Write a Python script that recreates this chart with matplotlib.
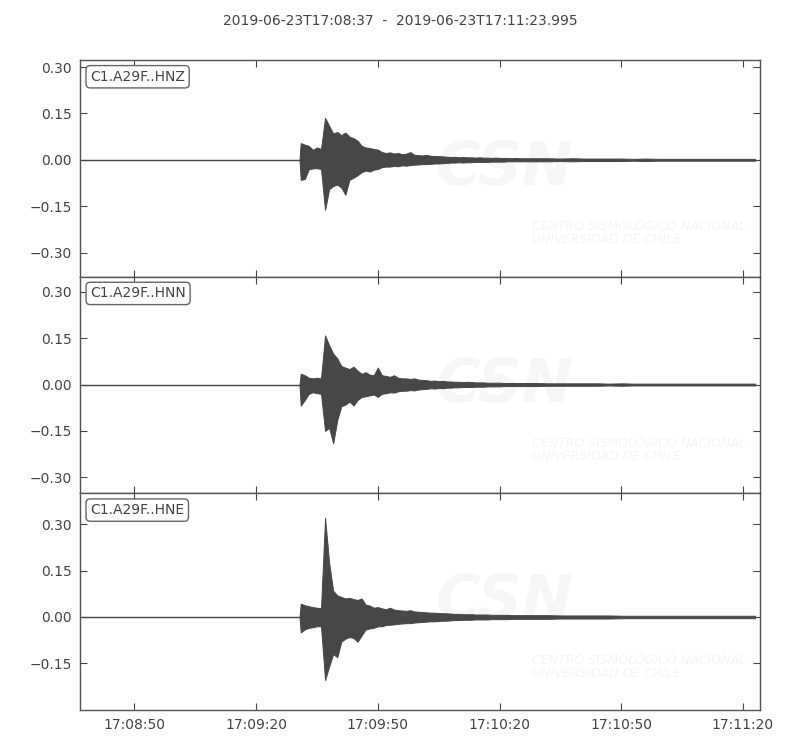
import numpy as np
import matplotlib
matplotlib.use("Agg")
import matplotlib.pyplot as plt
from matplotlib.ticker import FixedLocator, FuncFormatter

# ---------------- data ----------------
title = "2019-06-23T17:08:37  -  2019-06-23T17:11:23.995"
start_hms = (17, 8, 37)          # trace start time
duration = 166.995               # seconds
onset = 53.7                     # seconds after start, quiet before
pre_event_level = 0.0
channels = ["C1.A29F..HNZ", "C1.A29F..HNN", "C1.A29F..HNE"]

# 1-s bins, seconds after start
strong_t = list(range(54, 110))
# 3-s bins in the coda
tail_t = list(range(112, 168, 3))

hnz_hi = [0.054, 0.049, 0.045, 0.032, 0.040, 0.035, 0.136, 0.110, 0.085, 0.090,
          0.080, 0.088, 0.075, 0.070, 0.062, 0.045, 0.040, 0.038, 0.035, 0.033,
          0.025, 0.022, 0.024, 0.020, 0.022, 0.018, 0.020, 0.025, 0.016, 0.015,
          0.014, 0.016, 0.013, 0.012, 0.012, 0.011, 0.010, 0.009, 0.010, 0.008,
          0.009, 0.008, 0.008, 0.007, 0.008, 0.007, 0.007, 0.006, 0.007, 0.006,
          0.006, 0.006, 0.005, 0.006, 0.005, 0.005]
hnz_lo = [-0.065, -0.062, -0.030, -0.028, -0.027, -0.030, -0.162, -0.095, -0.085, -0.080,
          -0.090, -0.113, -0.065, -0.058, -0.050, -0.040, -0.035, -0.038, -0.032, -0.030,
          -0.024, -0.022, -0.022, -0.020, -0.021, -0.018, -0.019, -0.017, -0.016, -0.015,
          -0.014, -0.014, -0.013, -0.012, -0.012, -0.011, -0.010, -0.009, -0.009, -0.008,
          -0.009, -0.008, -0.008, -0.007, -0.007, -0.007, -0.007, -0.006, -0.006, -0.006,
          -0.006, -0.005, -0.005, -0.005, -0.005, -0.005]
hnz_tail = [0.005, 0.005, 0.004, 0.005, 0.004, 0.004, 0.004, 0.004, 0.003, 0.004,
            0.003, 0.003, 0.003, 0.003, 0.003, 0.003, 0.003, 0.003, 0.003]

hnn_hi = [0.035, 0.030, 0.022, 0.020, 0.022, 0.020, 0.159, 0.127, 0.100, 0.085,
          0.060, 0.055, 0.050, 0.058, 0.045, 0.035, 0.040, 0.032, 0.030, 0.055,
          0.030, 0.028, 0.025, 0.030, 0.022, 0.020, 0.020, 0.018, 0.020, 0.016,
          0.015, 0.014, 0.012, 0.013, 0.011, 0.012, 0.010, 0.010, 0.009, 0.009,
          0.008, 0.009, 0.008, 0.007, 0.007, 0.007, 0.006, 0.006, 0.006, 0.006,
          0.005, 0.005, 0.005, 0.005, 0.005, 0.005]
hnn_lo = [-0.068, -0.050, -0.030, -0.025, -0.028, -0.030, -0.150, -0.140, -0.190, -0.115,
          -0.070, -0.065, -0.055, -0.068, -0.050, -0.040, -0.038, -0.035, -0.032, -0.040,
          -0.030, -0.028, -0.025, -0.026, -0.022, -0.020, -0.020, -0.018, -0.019, -0.016,
          -0.015, -0.014, -0.012, -0.013, -0.011, -0.012, -0.010, -0.010, -0.009, -0.009,
          -0.008, -0.008, -0.008, -0.007, -0.007, -0.007, -0.006, -0.006, -0.006, -0.006,
          -0.005, -0.005, -0.005, -0.005, -0.005, -0.005]
hnn_tail = [0.005, 0.004, 0.004, 0.004, 0.004, 0.004, 0.003, 0.004, 0.003, 0.003,
            0.003, 0.003, 0.003, 0.003, 0.003, 0.003, 0.003, 0.003, 0.003]

hne_hi = [0.043, 0.038, 0.035, 0.032, 0.030, 0.028, 0.321, 0.175, 0.085, 0.070,
          0.065, 0.060, 0.062, 0.058, 0.055, 0.060, 0.040, 0.037, 0.030, 0.032,
          0.028, 0.025, 0.030, 0.024, 0.022, 0.021, 0.020, 0.022, 0.018, 0.017,
          0.016, 0.015, 0.014, 0.014, 0.013, 0.012, 0.012, 0.011, 0.010, 0.010,
          0.009, 0.009, 0.009, 0.008, 0.008, 0.008, 0.008, 0.007, 0.007, 0.007,
          0.007, 0.007, 0.006, 0.006, 0.006, 0.006]
hne_lo = [-0.050, -0.040, -0.035, -0.033, -0.030, -0.030, -0.204, -0.160, -0.120, -0.130,
          -0.080, -0.070, -0.065, -0.068, -0.080, -0.060, -0.040, -0.037, -0.035, -0.030,
          -0.030, -0.026, -0.025, -0.024, -0.022, -0.021, -0.020, -0.020, -0.018, -0.017,
          -0.016, -0.015, -0.014, -0.014, -0.013, -0.012, -0.012, -0.011, -0.010, -0.010,
          -0.009, -0.009, -0.009, -0.008, -0.008, -0.008, -0.008, -0.007, -0.007, -0.007,
          -0.007, -0.007, -0.006, -0.006, -0.006, -0.006]
hne_tail = [0.006, 0.006, 0.005, 0.005, 0.005, 0.005, 0.005, 0.004, 0.004, 0.004,
            0.004, 0.004, 0.004, 0.004, 0.004, 0.004, 0.004, 0.004, 0.004]

ylims = [(-0.378, 0.3227), (-0.352, 0.349), (-0.301, 0.400)]
yticks = [[-0.30, -0.15, 0.0, 0.15, 0.30],
          [-0.30, -0.15, 0.0, 0.15, 0.30],
          [-0.15, 0.0, 0.15, 0.30]]
xticks = [13, 43, 73, 103, 133, 163]

# ---------------- drawing ----------------
wave_color = "#474747"
text_color = "#444444"
plt.rcParams["font.family"] = ["DejaVu Sans"]
plt.rcParams["font.size"] = 10

fig = plt.figure(figsize=(8, 7.5), dpi=100)
fig.subplots_adjust(left=0.1, right=0.95, top=0.92, bottom=0.0533, hspace=0)
axes = fig.subplots(3, 1, sharex=True)

series = [(hnz_hi, hnz_lo, hnz_tail), (hnn_hi, hnn_lo, hnn_tail), (hne_hi, hne_lo, hne_tail)]


def fmt_time(x, pos):
    total = start_hms[0] * 3600 + start_hms[1] * 60 + start_hms[2] + int(round(x))
    h = total // 3600
    m = (total % 3600) // 60
    s = total % 60
    return f"{h:02d}:{m:02d}:{s:02d}"


for i, ax in enumerate(axes):
    hi, lo, tail = series[i]
    tail_arr = np.array(tail)
    # faint watermark
    ax.text(0.625, 0.50, "CSN", transform=ax.transAxes, fontsize=44,
            fontweight="bold", fontstyle="italic", color="#f6f6f6",
            ha="center", va="center", zorder=0)
    ax.text(0.665, 0.20, "CENTRO SISMOLÓGICO NACIONAL\nUNIVERSIDAD DE CHILE",
            transform=ax.transAxes, fontsize=9, fontstyle="italic",
            color="#f4f4f4", ha="left", va="center", linespacing=1.0, zorder=0)
    # pre-event quiet trace
    ax.plot([0.0, onset], [pre_event_level, pre_event_level], color=wave_color, lw=1.0, zorder=2)
    # min/max envelope of the record: strong motion (1-s) then coda (3-s)
    env_t = [onset] + strong_t + tail_t
    env_hi = np.array([pre_event_level] + hi + list(tail_arr))
    env_lo = np.array([pre_event_level] + lo + list(-tail_arr))
    ax.fill_between(env_t, env_lo, env_hi, color=wave_color, lw=0.7,
                    edgecolor=wave_color, zorder=2)
    ax.set_xlim(-0.4, duration + 0.2)
    ax.set_ylim(*ylims[i])
    ax.yaxis.set_major_locator(FixedLocator(yticks[i]))
    ax.yaxis.set_major_formatter(FuncFormatter(lambda v, p: f"{v:.2f}".replace("-", "\u2212")))
    ax.xaxis.set_major_locator(FixedLocator(xticks))
    ax.xaxis.set_major_formatter(FuncFormatter(fmt_time))
    ax.tick_params(direction="in", top=True, right=True, length=5, width=0.8,
                   colors=text_color, labelsize=10, pad=6)
    for sp in ax.spines.values():
        sp.set_color("#555555")
        sp.set_linewidth(1.0)
    ax.text(0.015, 0.955, channels[i], transform=ax.transAxes, ha="left", va="top",
            fontsize=10, color=text_color, zorder=5,
            bbox=dict(boxstyle="round,pad=0.3", fc="white", ec="#666666", lw=1))
    if i < 2:
        ax.tick_params(labelbottom=False)

fig.text(0.5, 0.972, title, ha="center", va="center", fontsize=10, color=text_color)
fig.savefig("out.png", dpi=100)
